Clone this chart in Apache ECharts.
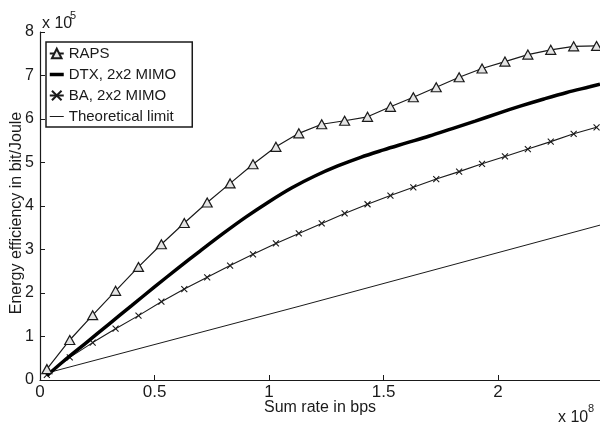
<!DOCTYPE html>
<html>
<head>
<meta charset="utf-8">
<script src="https://cdn.jsdelivr.net/npm/echarts@6/dist/echarts.min.js"></script>
<style>html,body{margin:0;padding:0;background:#fff}#c{width:600px;height:426px}</style>
</head>
<body>
<div id="c"></div>
<script>
// x in units of 1e8 bps, y in units of 1e5 bit/Joule
const markerX = [0.03,0.13,0.23,0.33,0.43,0.53,0.63,0.73,0.83,0.93,1.03,1.13,1.23,1.33,1.43,1.53,1.63,1.73,1.83,1.93,2.03,2.13,2.23,2.33,2.43];
const rapsY = [0.25,0.92,1.49,2.05,2.60,3.12,3.61,4.08,4.52,4.96,5.36,5.67,5.88,5.96,6.05,6.28,6.50,6.73,6.96,7.16,7.32,7.48,7.59,7.67,7.68];
const baY = [0.12,0.52,0.86,1.18,1.48,1.80,2.09,2.36,2.63,2.89,3.14,3.37,3.60,3.83,4.04,4.24,4.43,4.62,4.79,4.97,5.14,5.31,5.48,5.66,5.81];
const dtxX = [0.03,0.1,0.2,0.3,0.4,0.5,0.6,0.7,0.8,0.9,1.0,1.1,1.2,1.3,1.4,1.5,1.6,1.7,1.8,1.9,2.0,2.1,2.2,2.3,2.4,2.445];
const dtxY = [0.10,0.42,0.85,1.28,1.71,2.14,2.56,2.97,3.37,3.75,4.10,4.42,4.69,4.92,5.12,5.29,5.45,5.61,5.78,5.95,6.13,6.30,6.46,6.61,6.74,6.80];
const limitX = [0.03,1.135,2.445];
const limitY = [0.16,1.70,3.56];
const seriesNames = ['RAPS','DTX, 2x2 MIMO','BA, 2x2 MIMO','Theoretical limit'];
const xTicks = {min:0, max:2.445, interval:0.5};
const yTicks = {min:0, max:8, interval:1};

const zip = (xs, ys) => xs.map((x, i) => [x, ys[i]]);
const ink = '#1a1a1a';
const font = 'Liberation Sans, Arial, Helvetica, sans-serif';

const chart = echarts.init(document.getElementById('c'), null, {renderer:'canvas'});
chart.setOption({
  backgroundColor:'#fff',
  animation:false,
  textStyle:{fontFamily:font, color:ink},
  grid:{left:40, right:0, top:32, bottom:46, containLabel:false, outerBoundsMode:'none'},
  legend:{
    orient:'vertical', left:46, top:42,
    data:[
      {name:seriesNames[0]},
      {name:seriesNames[1], itemStyle:{opacity:0}, lineStyle:{width:3.5, color:'#000'}},
      {name:seriesNames[2]},
      {name:seriesNames[3], itemStyle:{opacity:0}, lineStyle:{width:1, color:ink}}
    ],
    backgroundColor:'#fff', borderColor:ink, borderWidth:1.5,
    padding:[4,16,3,2], itemGap:6, itemWidth:14, itemHeight:12,
    textStyle:{fontSize:15, color:ink, fontFamily:font}
  },
  xAxis:{
    type:'value', min:xTicks.min, max:xTicks.max, interval:xTicks.interval,
    name:'Sum rate in bps', nameLocation:'middle', nameGap:20, nameMoveOverlap:false,
    nameTextStyle:{fontSize:16, color:ink},
    axisLine:{lineStyle:{color:ink, width:1.2}},
    axisTick:{inside:true, length:5, lineStyle:{color:ink}},
    axisLabel:{fontSize:17, color:ink, margin:4, showMaxLabel:false, formatter:v => String(v)},
    splitLine:{show:false}
  },
  yAxis:{
    type:'value', min:yTicks.min, max:yTicks.max, interval:yTicks.interval,
    name:'Energy efficiency in bit/Joule', nameLocation:'middle', nameGap:15, nameMoveOverlap:false,
    nameTextStyle:{fontSize:16, color:ink, padding:[0,14,0,0]},
    axisLine:{show:true, lineStyle:{color:ink, width:1.2}},
    axisTick:{show:true, inside:true, length:5, lineStyle:{color:ink}},
    axisLabel:{fontSize:16, color:ink, margin:6},
    splitLine:{show:false}
  },
  graphic:[
    {type:'text', left:42, top:16, style:{text:'x 10', fontSize:16, fill:ink, fontFamily:font}},
    {type:'text', left:70, top:10, style:{text:'5', fontSize:11, fill:ink, fontFamily:font}},
    {type:'text', left:558, top:410, style:{text:'x 10', fontSize:16, fill:ink, fontFamily:font}},
    {type:'text', left:588, top:403, style:{text:'8', fontSize:11, fill:ink, fontFamily:font}}
  ],
  series:[
    {
      name:seriesNames[0], type:'line', data:zip(markerX, rapsY),
      symbol:'triangle', symbolSize:[10,9], showAllSymbol:true,
      lineStyle:{color:ink, width:1.2},
      itemStyle:{color:'#e4e4e4', borderColor:ink, borderWidth:1.2},
      z:4
    },
    {
      name:seriesNames[1], type:'line', data:zip(dtxX, dtxY),
      symbol:'none', smooth:0.35,
      lineStyle:{color:'#000', width:3.5},
      itemStyle:{color:'rgba(0,0,0,0)'},
      z:3
    },
    {
      name:seriesNames[2], type:'line', data:zip(markerX, baY),
      symbol:'path://M0,0L10,10M10,0L0,10', symbolSize:6, showAllSymbol:true,
      lineStyle:{color:ink, width:1.1},
      itemStyle:{color:ink, borderColor:ink, borderWidth:1.1},
      z:2
    },
    {
      name:seriesNames[3], type:'line', data:zip(limitX, limitY),
      symbol:'none',
      lineStyle:{color:ink, width:1},
      itemStyle:{color:'rgba(0,0,0,0)'},
      z:1
    }
  ]
});
</script>
</body>
</html>
